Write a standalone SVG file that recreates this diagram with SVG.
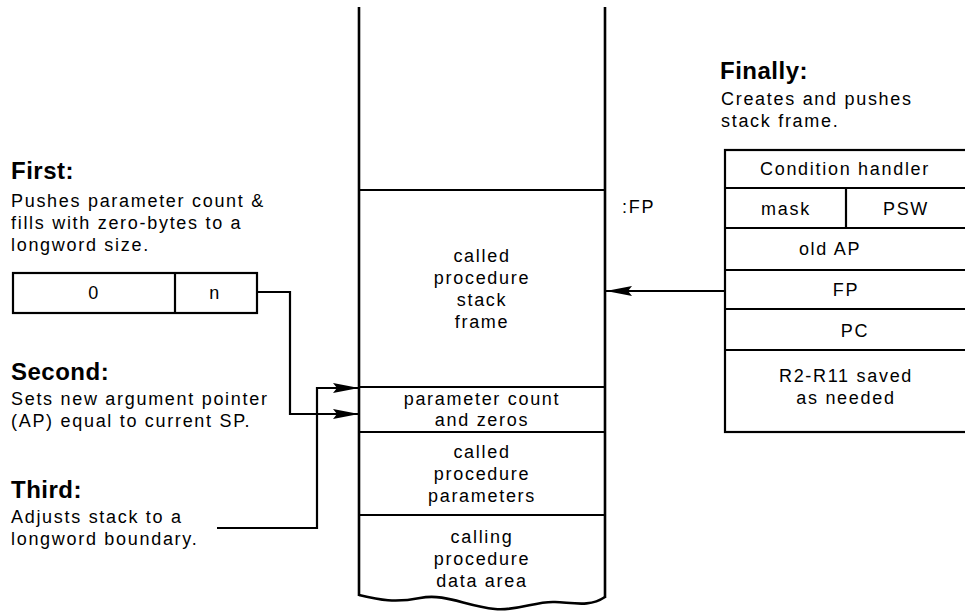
<svg xmlns="http://www.w3.org/2000/svg" width="965" height="615" viewBox="0 0 965 615">
<defs>
<style>
.t{font-family:"Liberation Sans",Arial,Helvetica,sans-serif;font-size:18px;letter-spacing:1.7px;fill:#000}
.c{text-anchor:middle}
.h{font-family:"Liberation Sans",Arial,Helvetica,sans-serif;font-size:24px;font-weight:bold;letter-spacing:0.5px;fill:#000}
.ln{fill:none;stroke:#000;stroke-width:2.2}
.col{fill:none;stroke:#000;stroke-width:2.6}
</style>
<marker id="arr" viewBox="0 0 26 10" refX="26" refY="5" markerWidth="26" markerHeight="10" orient="auto" markerUnits="userSpaceOnUse">
<path d="M0,0 L26,5 L0,10 L4,5 Z" fill="#000"/>
</marker>
</defs>
<rect width="965" height="615" fill="#fff"/>

<g id="first">
<text class="h" x="11" y="179">First:</text>
<text class="t" x="11" y="207">Pushes parameter count &amp;</text>
<text class="t" x="11" y="229">fills with zero-bytes to a</text>
<text class="t" x="11" y="251">longword size.</text>
</g>

<g id="count-box">
<rect class="ln" x="13" y="273" width="244" height="40"/>
<line class="ln" x1="175" y1="273" x2="175" y2="313"/>
<text class="t c" x="94" y="299">0</text>
<text class="t c" x="215" y="299">n</text>
</g>

<g id="second">
<text class="h" x="11" y="380">Second:</text>
<text class="t" x="11" y="405">Sets new argument pointer</text>
<text class="t" x="11" y="427">(AP) equal to current SP.</text>
</g>

<g id="third">
<text class="h" x="11" y="498">Third:</text>
<text class="t" x="11" y="523">Adjusts stack to a</text>
<text class="t" x="11" y="545">longword boundary.</text>
</g>

<g id="stack">
<line class="col" x1="359" y1="7" x2="359" y2="596"/>
<line class="col" x1="605" y1="7" x2="605" y2="598"/>
<path class="col" d="M359,595 C380,600 395,603 420,598 C445,593 465,606 495,609 C520,611 535,601 555,602 C575,603 590,607 605,597"/>
<line class="ln" x1="359" y1="190" x2="605" y2="190"/>
<line class="ln" x1="359" y1="387" x2="605" y2="387"/>
<line class="ln" x1="359" y1="432" x2="605" y2="432"/>
<line class="ln" x1="359" y1="515" x2="605" y2="515"/>
<text class="t c" x="482" y="262">called</text>
<text class="t c" x="482" y="284">procedure</text>
<text class="t c" x="482" y="306">stack</text>
<text class="t c" x="482" y="328">frame</text>
<text class="t c" x="482" y="405">parameter count</text>
<text class="t c" x="482" y="426">and zeros</text>
<text class="t c" x="482" y="458">called</text>
<text class="t c" x="482" y="480">procedure</text>
<text class="t c" x="482" y="502">parameters</text>
<text class="t c" x="482" y="543">calling</text>
<text class="t c" x="482" y="565">procedure</text>
<text class="t c" x="482" y="587">data area</text>
<text class="t" x="622" y="213">:FP</text>
</g>

<g id="finally">
<text class="h" x="720" y="79">Finally:</text>
<text class="t" x="721" y="105">Creates and pushes</text>
<text class="t" x="721" y="127">stack frame.</text>
</g>

<g id="frame-box">
<rect class="ln" x="725" y="150" width="250" height="282"/>
<line class="ln" x1="725" y1="188" x2="975" y2="188"/>
<line class="ln" x1="725" y1="228" x2="975" y2="228"/>
<line class="ln" x1="725" y1="270" x2="975" y2="270"/>
<line class="ln" x1="725" y1="309" x2="975" y2="309"/>
<line class="ln" x1="725" y1="350" x2="975" y2="350"/>
<line class="ln" x1="846" y1="188" x2="846" y2="228"/>
<text class="t c" x="845" y="175">Condition handler</text>
<text class="t c" x="786" y="215">mask</text>
<text class="t c" x="906" y="215">PSW</text>
<text class="t c" x="830" y="255">old AP</text>
<text class="t c" x="846" y="296">FP</text>
<text class="t c" x="855" y="337">PC</text>
<text class="t c" x="846" y="382">R2-R11 saved</text>
<text class="t c" x="846" y="404">as needed</text>
</g>

<g id="connectors">
<path class="ln" d="M257,292 H290 V414 H359" marker-end="url(#arr)"/>
<path class="ln" d="M217,528 H317 V388 H359" marker-end="url(#arr)"/>
<path class="ln" d="M725,291 H606" marker-end="url(#arr)"/>
</g>
</svg>
